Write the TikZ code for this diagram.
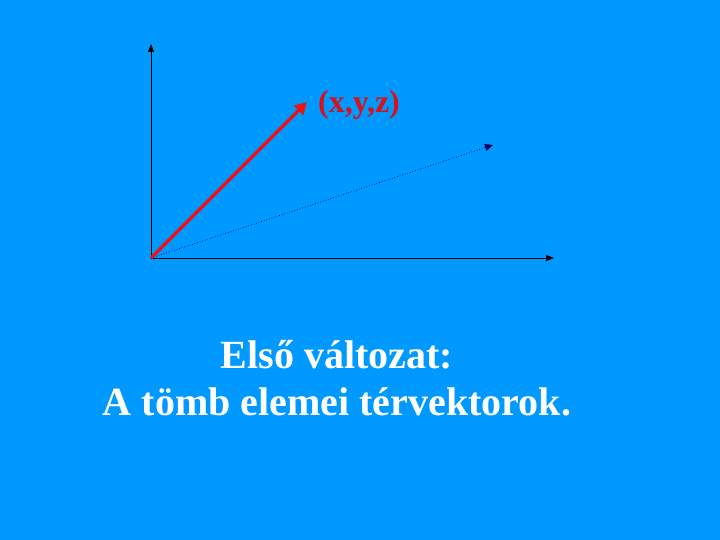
\documentclass[tikz,border=0pt]{standalone}
\usepackage{fontspec}
\setmainfont{Liberation Serif}
\usetikzlibrary{arrows.meta}
\definecolor{bg}{RGB}{0,153,255}
\definecolor{vecred}{RGB}{235,20,20}
\definecolor{lblred}{RGB}{210,20,30}
\definecolor{dotc}{RGB}{0,0,90}
\tikzset{
  axis/.style={line width=0.9pt, black, -{Triangle[length=8pt,width=6pt]}},
  vec/.style={line width=3.5pt, vecred, -{Triangle[length=12pt,width=13pt]}},
  dotvec/.style={line width=0.7pt, dotc, dotted, -{Triangle[length=8pt,width=7pt]}},
  ttl/.style={text=white, font=\bfseries\fontsize{40}{47}\selectfont, align=center}
}
\begin{document}
\begin{tikzpicture}[x=1pt,y=-1pt]
\fill[bg] (0,0) rectangle (720,540);
\useasboundingbox (0,0) rectangle (720,540);
\coordinate (O) at (151,258);
\coordinate (Y) at (151,44);
\coordinate (X) at (554,258);
\coordinate (V) at (307,102);
\coordinate (D) at (493,145);
\draw[axis] (O) -- (Y);
\draw[axis] (O) -- (X);
\draw[dotvec] (O) -- (D);
\draw[vec] (O) -- (V);
\node[text=lblred, font=\bfseries\fontsize{32}{36}\selectfont] (lbl) at (359,105) {(x,y,z)};
\node[ttl] (t) at (337,378) {Első változat:\\A tömb elemei térvektorok.};
\end{tikzpicture}
\end{document}
